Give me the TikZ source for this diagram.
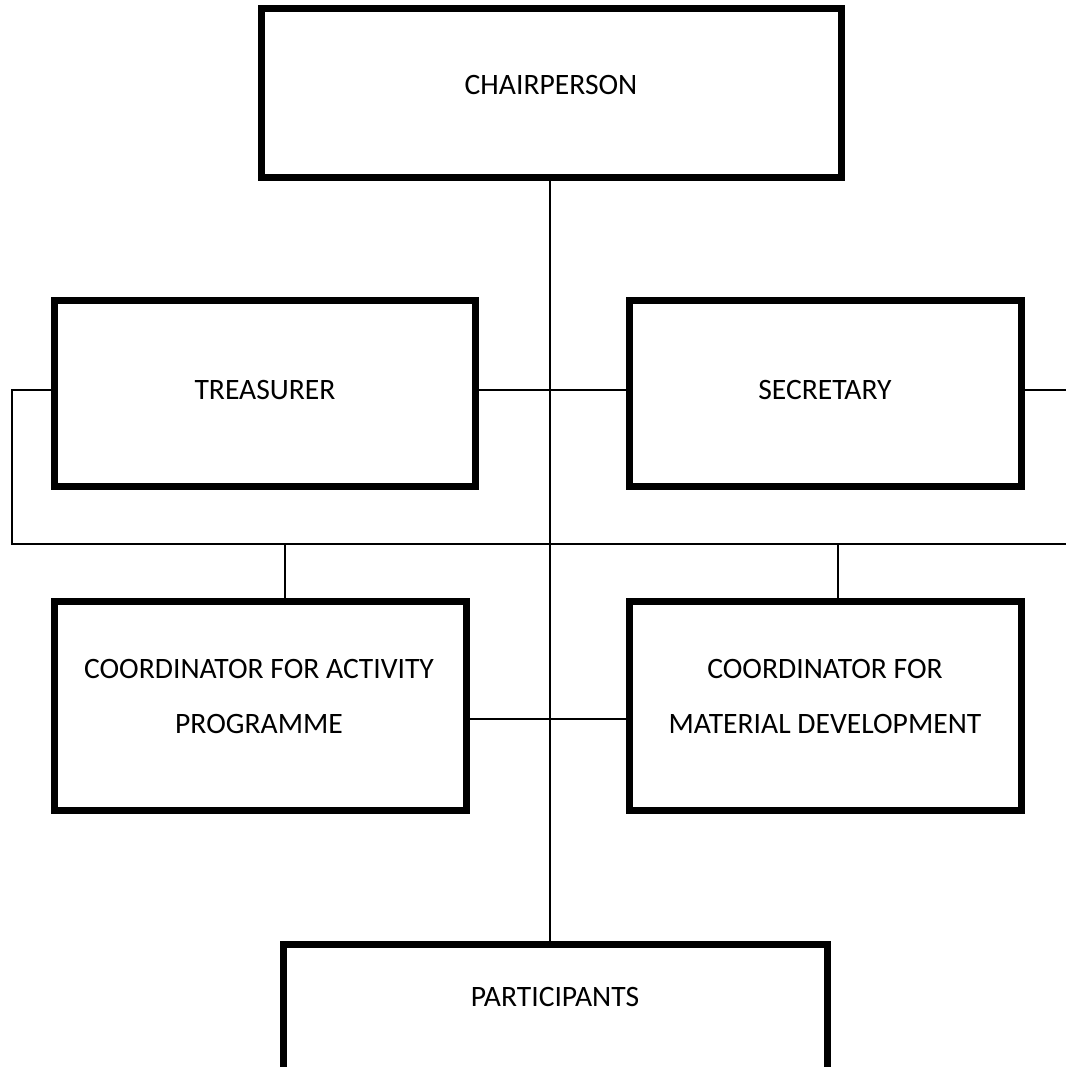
\documentclass[tikz,border=0pt]{standalone}
\usepackage{fontspec}
\setmainfont{Carlito}
\begin{document}
\begin{tikzpicture}[x=0.75pt,y=-0.75pt,
  box/.style={draw=black, fill=white, line width=3.4pt, rectangle, inner sep=0pt},
  link/.style={draw=black, line width=1.5pt},
  lbl/.style={font=\fontsize{22.2}{41.25}\selectfont, align=center, inner sep=0pt}]
\useasboundingbox (0,0) rectangle (1066,1067);
\clip (0,0) rectangle (1066,1067);
\fill[white] (0,0) rectangle (1066,1067);

% reference points for the connector runs
\coordinate (spine) at (550,0);
\coordinate (row1) at (0,390);
\coordinate (row2) at (0,719);
\coordinate (busL) at (12,544);
\coordinate (busR) at (1090,544);
\coordinate (rowR) at (1090,390);
\coordinate (tapA) at (285,544);
\coordinate (tapB) at (838,544);

% boxes
\node[box, minimum width=433.1pt, minimum height=124.9pt] (chair) at (551.25,93.25) {};
\node[box, minimum width=314.25pt, minimum height=137.6pt] (treas) at (265,393.75) {};
\node[box, minimum width=292.1pt, minimum height=137.6pt] (sec) at (825.25,393.75) {};
\node[box, minimum width=307.1pt, minimum height=155.25pt] (coordA) at (260.25,706) {};
\node[box, minimum width=292.1pt, minimum height=155.25pt] (coordB) at (825.25,706) {};
\node[box, minimum width=406.1pt, minimum height=125.25pt] (part) at (555.75,1029) {};

% connectors
\draw[link] (chair.south -| spine) -- (part.north -| spine);
\draw[link] (treas.east |- row1) -- (sec.west |- row1);
\draw[link] (treas.west |- row1) -| (busL) -- (busR);
\draw[link] (sec.east |- row1) -- (rowR);
\draw[link] (tapA) -- (tapA |- coordA.north);
\draw[link] (tapB) -- (tapB |- coordB.north);
\draw[link] (coordA.east |- row2) -- (coordB.west |- row2);

% redraw box outlines over connector ends
\foreach \b in {chair,treas,sec,coordA,coordB,part}
  \draw[line width=3.4pt] (\b.north west) rectangle (\b.south east);

% labels
\node[lbl] (tchair) at (551,85) {CHAIRPERSON};
\node[lbl] (ttreas) at (265,390) {TREASURER};
\node[lbl] (tsec) at (825,390) {SECRETARY};
\node[lbl] (tcoordA) at (259,696.5) {COORDINATOR FOR ACTIVITY\\PROGRAMME};
\node[lbl] (tcoordB) at (825,696.5) {COORDINATOR FOR\\MATERIAL DEVELOPMENT};
\node[lbl] (tpart) at (555,997) {PARTICIPANTS};
\end{tikzpicture}
\end{document}
